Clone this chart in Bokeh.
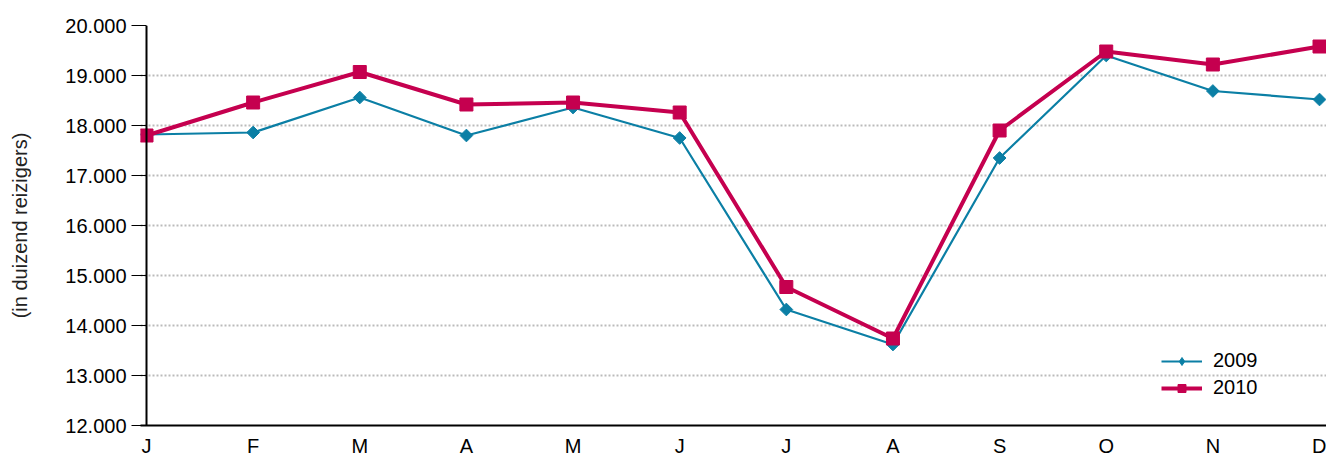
import math
from bokeh.plotting import figure
from bokeh.models import (Range1d, Span, Legend, LegendItem, FixedTicker,
                          SingleIntervalTicker, CustomJSTickFormatter, ColumnDataSource)
from bokeh.embed import file_html
from bokeh.resources import INLINE

months = ["J", "F", "M", "A", "M", "J", "J", "A", "S", "O", "N", "D"]
series_2009 = [17820, 17860, 18560, 17800, 18360, 17750, 14320, 13620, 17350, 19400, 18690, 18520]
series_2010 = [17800, 18460, 19070, 18420, 18460, 18260, 14770, 13740, 17900, 19480, 19220, 19580]

FONT = "Liberation Sans"
TEAL = "#0B7FA5"
CRIMSON = "#C5004F"

x = list(range(len(months)))
src = ColumnDataSource(dict(x=x, y09=series_2009, y10=series_2010))
# legend-only source: no visible point in the plot
legend_src = ColumnDataSource(dict(x=[float("nan")], y=[float("nan")]))

p = figure(frame_width=1186, frame_height=400,
           min_border_left=140, min_border_right=0, min_border_top=25, min_border_bottom=30,
           x_range=Range1d(-0.0563, 11.0656), y_range=Range1d(12000, 20000),
           output_backend="svg", toolbar_location=None, tools="")
p.outline_line_color = None
p.background_fill_color = "white"

# grid
p.xgrid.grid_line_color = None
p.ygrid.grid_line_color = "#BBBBBB"
p.ygrid.grid_line_width = 2
p.ygrid.grid_line_dash = "2 2"

# y axis
yax = p.yaxis[0]
yax.ticker = SingleIntervalTicker(interval=1000)
yax.formatter = CustomJSTickFormatter(code="return (tick/1000).toFixed(3);")
yax.axis_line_color = None
yax.major_tick_out = 9
yax.major_tick_in = 6
yax.major_tick_line_color = "black"
yax.major_tick_line_width = 1
yax.minor_tick_line_color = None
yax.major_label_standoff = 5
yax.major_label_text_font = FONT
yax.major_label_text_font_size = "20px"
yax.major_label_text_color = "black"
yax.axis_label = "(in duizend reizigers)"
yax.axis_label_text_font = FONT
yax.axis_label_text_font_size = "20px"
yax.axis_label_text_font_style = "normal"
yax.axis_label_text_color = "#222222"
yax.axis_label_standoff = 31

# x axis
xax = p.xaxis[0]
xax.ticker = FixedTicker(ticks=x)
xax.major_label_overrides = {i: m for i, m in enumerate(months)}
xax.axis_line_color = "black"
xax.axis_line_width = 2
xax.major_tick_line_color = None
xax.minor_tick_line_color = None
xax.major_tick_out = 0
xax.major_tick_in = 0
xax.major_label_standoff = 9
xax.major_label_text_font = FONT
xax.major_label_text_font_size = "20px"
xax.major_label_text_color = "black"

# vertical axis line at first month
p.add_layout(Span(location=0, dimension="height", line_color="black", line_width=2))

l09 = p.line("x", "y09", source=src, line_color=TEAL, line_width=2.2)
p.scatter("x", "y09", source=src, marker="square", angle=math.pi / 4, size=9,
          fill_color=TEAL, line_color=TEAL)
l10 = p.line("x", "y10", source=src, line_color=CRIMSON, line_width=4)
p.scatter("x", "y10", source=src, marker="square", size=13,
          fill_color=CRIMSON, line_color=CRIMSON)

# legend-only marker glyphs (smaller, as in the reference legend)
k09 = p.scatter("x", "y", source=legend_src, marker="diamond", size=10,
                fill_color=TEAL, line_color=TEAL)
k10 = p.scatter("x", "y", source=legend_src, marker="square", size=9,
                fill_color=CRIMSON, line_color=CRIMSON)

legend = Legend(items=[LegendItem(label="2009", renderers=[l09, k09]),
                       LegendItem(label="2010", renderers=[l10, k10])],
                location=(1021, 26), padding=0, margin=0, spacing=4,
                glyph_width=41, glyph_height=20, label_height=20, label_standoff=11,
                label_text_font=FONT, label_text_font_size="20px", label_text_color="black",
                border_line_color=None, background_fill_alpha=0)
p.add_layout(legend)

open("out.html", "w").write(file_html(p, INLINE))
